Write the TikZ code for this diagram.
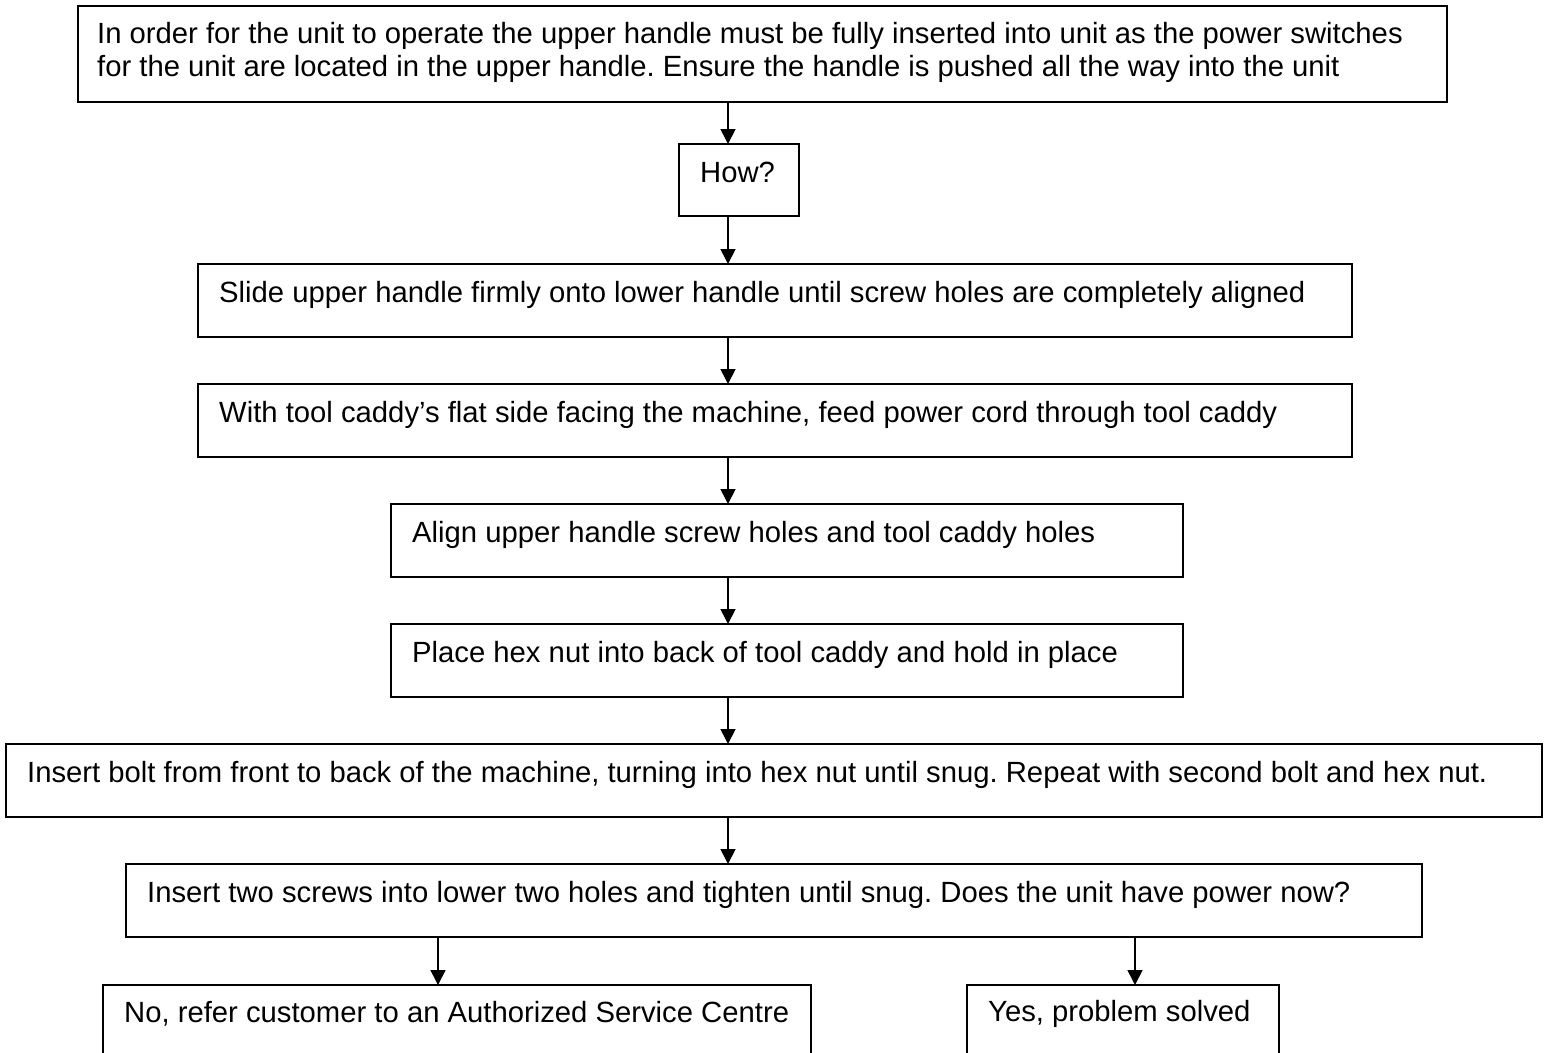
\documentclass[tikz,border=0pt]{standalone}
\usepackage{fontspec}
\setmainfont{Liberation Sans}
\usetikzlibrary{arrows.meta}
\frenchspacing
\begin{document}
\begin{tikzpicture}[x=1pt,y=-1pt,
  stepbox/.style={draw=black,line width=1.6pt,fill=white,anchor=north west,inner sep=0pt,outer sep=0pt},
  txt/.style={anchor=base west,inner sep=0pt,font=\fontsize{29.25}{33}\selectfont},
  flow/.style={line width=1.6pt,-{Triangle[length=15pt,width=15pt]}}]
\clip (0,0) rectangle (1549,1052);
\useasboundingbox (0,0) rectangle (1549,1052);
% boxes
\node[stepbox,minimum width=1369pt,minimum height=96pt] (b1) at (78,6) {};
\node[stepbox,minimum width=120pt,minimum height=72pt] (b2) at (679,144) {};
\node[stepbox,minimum width=1154pt,minimum height=73pt] (b3) at (198,264) {};
\node[stepbox,minimum width=1154pt,minimum height=73pt] (b4) at (198,384) {};
\node[stepbox,minimum width=792pt,minimum height=73pt] (b5) at (391,504) {};
\node[stepbox,minimum width=792pt,minimum height=73pt] (b6) at (391,624) {};
\node[stepbox,minimum width=1536pt,minimum height=73pt] (b7) at (6,744) {};
\node[stepbox,minimum width=1296pt,minimum height=73pt] (b8) at (126,864) {};
\node[stepbox,minimum width=708pt,minimum height=90pt] (b9) at (103,985) {};
\node[stepbox,minimum width=312pt,minimum height=90pt] (b10) at (967,985) {};
% texts
\node[txt] (t1a) at (97,43) {In order for the unit to operate the upper handle must be fully inserted into unit as the power switches};
\node[txt] (t1b) at (97,76) {for the unit are located in the upper handle. Ensure the handle is pushed all the way into the unit};
\node[txt] (t2) at (700,182) {How?};
\node[txt] (t3) at (219,302) {Slide upper handle firmly onto lower handle until screw holes are completely aligned};
\node[txt] (t4) at (219,422) {With tool caddy’s flat side facing the machine, feed power cord through tool caddy};
\node[txt] (t5) at (412,542) {Align upper handle screw holes and tool caddy holes};
\node[txt] (t6) at (412,662) {Place hex nut into back of tool caddy and hold in place};
\node[txt] (t7) at (27,782) {Insert bolt from front to back of the machine, turning into hex nut until snug. Repeat with second bolt and hex nut.};
\node[txt] (t8) at (147,902) {Insert two screws into lower two holes and tighten until snug. Does the unit have power now?};
\node[txt] (t9) at (124,1022) {No, refer customer to an Authorized Service Centre};
\node[txt] (t10) at (988,1021) {Yes, problem solved};
% connectors: main column and the two branches
\coordinate (sMain) at (728,0);
\coordinate (sNo) at (438,0);
\coordinate (sYes) at (1135,0);
\draw[flow] (sMain |- b1.south) -- (sMain |- b2.north);
\draw[flow] (sMain |- b2.south) -- (sMain |- b3.north);
\draw[flow] (sMain |- b3.south) -- (sMain |- b4.north);
\draw[flow] (sMain |- b4.south) -- (sMain |- b5.north);
\draw[flow] (sMain |- b5.south) -- (sMain |- b6.north);
\draw[flow] (sMain |- b6.south) -- (sMain |- b7.north);
\draw[flow] (sMain |- b7.south) -- (sMain |- b8.north);
\draw[flow] (sNo |- b8.south) -- (sNo |- b9.north);
\draw[flow] (sYes |- b8.south) -- (sYes |- b10.north);
\end{tikzpicture}
\end{document}
